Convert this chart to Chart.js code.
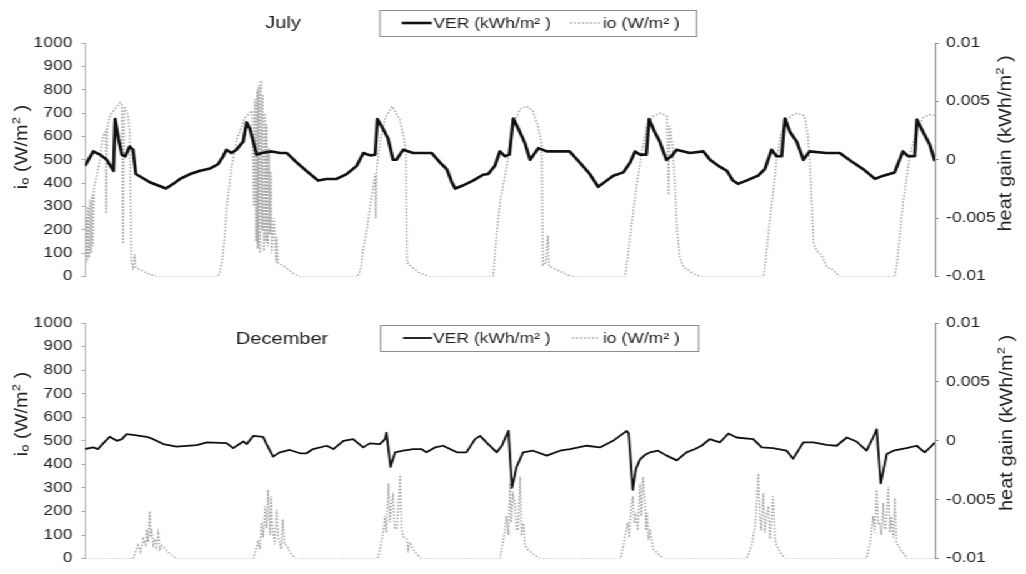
<!DOCTYPE html>
<html>
<head>
<meta charset="utf-8">
<title>VER and io - July / December</title>
<script src="https://cdn.jsdelivr.net/npm/chart.js@4.4.1/dist/chart.umd.min.js"></script>
<style>
  html, body { margin: 0; padding: 0; background: #fff; overflow: hidden; }
  /* plot is laid out narrow and widened, like the exported figure */
  #fig { width: 821px; height: 574px; transform: scaleX(1.2497); transform-origin: 0 0; }
  canvas { display: block; }
</style>
</head>
<body>
<div id="fig">
  <canvas id="july" width="821" height="292"></canvas>
  <canvas id="december" width="821" height="282"></canvas>
</div>
<script>
// [hour, heat gain kWh/m2]
const julyVer = [
  [0, -0.00052], [1.5, 0.00072], [2.7, 0.00044], [3.9, 0], [5.1, -0.00094], [5.4, 0.00348], [6.0, 0.00182],
  [6.6, 0.00044], [7.2, 0.0003], [8.0, 0.00114], [8.6, 0.00086], [9.1, -0.00122], [10.1, -0.0015],
  [11.6, -0.00192], [13.1, -0.0022], [14.5, -0.00246], [15.8, -0.00206], [17.0, -0.00164], [18.8, -0.00122],
  [20.6, -0.00094], [22.4, -0.00074], [23.8, -0.00038], [24.7, 0.0003], [25.3, 0.00086], [26.2, 0.00058],
  [27.1, 0.00086], [28.3, 0.00156], [28.9, 0.00322], [29.5, 0.00266], [30.1, 0.00156], [30.7, 0.00044],
  [31.6, 0.00058], [33.4, 0.00072], [34.9, 0.00058], [36.1, 0.00058], [37.9, -0.00024], [39.6, -0.00094],
  [41.7, -0.00178], [43.2, -0.00164], [45.0, -0.00164], [46.8, -0.00122], [48.6, -0.00052], [49.8, 0.00058],
  [51.0, 0.00038], [51.9, 0.00044], [52.3, 0.00348], [53.3, 0.00266], [54.2, 0.00182], [55.1, 0],
  [55.7, 0], [56.9, 0.00086], [58.7, 0.00058], [62.0, 0.00058], [63.5, -0.00024], [64.7, -0.0008],
  [65.6, -0.00192], [66.2, -0.00246], [67.6, -0.0022], [69.4, -0.00178], [71.2, -0.00128], [72.1, -0.00122],
  [73.3, -0.00052], [74.2, 0.00072], [75.1, 0.0003], [75.9, 0.00044], [76.6, 0.00354], [77.5, 0.00266],
  [78.7, 0.00142], [79.6, 0], [81.1, 0.001], [82.6, 0.00072], [86.7, 0.00072], [88.5, -0.00024],
  [90.3, -0.00122], [91.8, -0.00232], [93.3, -0.00178], [94.5, -0.00136], [96.3, -0.00108], [97.5, -0.00024],
  [98.4, 0.00072], [99.3, 0.00044], [100.4, 0.00044], [100.9, 0.00348], [101.9, 0.00238], [102.8, 0.00156],
  [104.0, 0], [104.9, 0.0003], [105.8, 0.00086], [108.2, 0.00058], [110.6, 0.00072], [111.8, 0],
  [113.3, -0.00052], [114.8, -0.00094], [115.9, -0.00178], [116.8, -0.00206], [118.3, -0.00178],
  [120.4, -0.00136], [121.6, -0.0008], [122.8, 0.00086], [123.7, 0.0003], [124.6, 0.0003], [125.2, 0.00354],
  [126.1, 0.00238], [127.3, 0.00156], [128.5, 0], [129.6, 0.00072], [132.6, 0.00058], [135.0, 0.00058],
  [137.4, -0.00024], [139.2, -0.0008], [141.3, -0.00164], [142.8, -0.00136], [144.8, -0.00108],
  [146.3, 0.00072], [147.2, 0.0003], [148.4, 0.0003], [148.8, 0.00344], [149.9, 0.00238], [151.1, 0.00128],
  [152.0, -0.00012]
];

// [hour, io W/m2]
const julyIo = [
  [0.0, 80], [0.2, 250], [0.4, 60], [0.5, 300], [0.7, 80], [0.9, 330], [1.1, 100], [1.3, 350], [1.4, 130],
  [1.6, 380], [2.0, 420], [2.7, 500], [3.2, 600], [3.7, 620], [3.8, 270], [4.0, 640], [4.5, 690], [5.4, 720],
  [6.3, 745], [6.6, 740], [6.8, 140], [7.0, 730], [7.7, 690], [8.0, 620], [8.3, 60], [8.6, 40], [8.9, 95],
  [9.1, 40], [9.8, 30], [11.6, 10], [12.9, 0],
  [23.8, 0], [24.1, 20], [24.5, 60], [24.9, 150], [25.4, 310], [26.3, 480], [27.2, 590], [28.6, 680],
  [29.9, 710], [30.2, 300], [30.4, 760], [30.6, 150], [30.8, 800], [30.9, 120], [31.1, 820], [31.3, 100],
  [31.5, 840], [31.7, 200], [31.8, 780], [32.0, 110], [32.2, 700], [32.4, 150], [32.5, 650], [32.7, 130],
  [32.9, 550], [33.1, 180], [33.3, 450], [33.4, 100], [33.8, 250], [34.2, 60], [34.3, 170], [34.5, 60],
  [35.8, 40], [37.2, 15], [38.4, 0],
  [48.8, 0], [49.4, 40], [49.7, 110], [50.4, 200], [51.0, 300], [51.9, 440], [52.0, 250], [52.2, 470],
  [52.8, 577], [53.6, 673], [54.9, 729], [56.3, 673], [57.0, 600], [57.4, 530], [57.6, 60], [58.5, 40],
  [59.9, 15], [61.7, 0],
  [73.0, 0], [73.3, 90], [73.7, 200], [74.2, 314], [75.5, 480], [76.5, 647], [77.8, 716], [79.0, 730],
  [80.1, 709], [81.0, 647], [81.7, 564], [81.9, 50], [82.4, 60], [82.8, 176], [83.0, 44], [84.9, 24],
  [86.7, 3], [87.6, 0],
  [96.6, 0], [97.1, 91], [97.8, 229], [98.7, 395], [99.6, 534], [100.5, 645], [101.6, 686], [103.0, 700],
  [104.1, 686], [104.4, 350], [104.6, 645], [105.1, 560], [105.5, 400], [105.9, 200], [106.4, 80],
  [107.1, 40], [109.1, 10], [110.0, 0],
  [121.4, 0], [122.0, 131], [122.8, 312], [123.2, 384], [123.7, 505], [124.3, 591], [124.6, 617],
  [125.5, 673], [126.6, 693], [127.3, 699], [128.7, 688], [129.3, 600], [129.6, 505], [130.0, 312],
  [130.3, 145], [130.9, 110], [131.8, 90], [132.7, 40], [133.6, 32], [135.0, 0],
  [144.8, 0], [145.2, 51], [145.5, 120], [146.3, 314], [147.5, 515], [148.8, 630], [149.9, 680],
  [151.1, 694], [152.0, 690]
];

const decVer = [
  [0, -0.0007], [1.6, -0.00056], [2.6, -0.0007], [3.6, -0.00022], [4.9, 0.00034], [6.3, 0], [7.3, 0.00014],
  [8.2, 0.00056], [9.5, 0.0005], [12.2, 0.00034], [13.5, 0.00014], [15.5, -0.00028], [18.1, -0.0005],
  [22.1, -0.00036], [24.1, -0.00014], [28.0, -0.0002], [29.3, -0.00062], [31.3, -0.00006], [32.0, -0.00028],
  [33.3, 0.00042], [35.2, 0.00034], [35.9, -0.00028], [37.2, -0.00134], [38.5, -0.00098], [40.5, -0.00078],
  [42.5, -0.00106], [43.8, -0.00106], [45.1, -0.0007], [47.8, -0.00042], [49.1, -0.0007], [51.1, 0],
  [53.0, 0.00014], [55.0, -0.00056], [56.3, -0.00022], [58.3, -0.00028], [59.3, 0.00014], [59.6, 0.0007],
  [60.4, -0.00222], [61.3, -0.00098], [62.9, -0.00084], [64.9, -0.0007], [66.5, -0.0007], [67.5, -0.00098],
  [69.2, -0.00056], [70.8, -0.00042], [73.5, -0.00098], [75.4, -0.00098], [77.1, 0.00014], [78.1, 0.00042],
  [79.7, -0.00028], [81.4, -0.00098], [82.4, -0.00042], [83.7, 0.00084], [84.4, -0.004], [85.3, -0.00222],
  [86.6, -0.00098], [88.6, -0.00084], [91.3, -0.00126], [93.9, -0.00084], [95.9, -0.0007], [99.2, -0.00042],
  [101.8, -0.00056], [104.4, 0], [107.1, 0.00084], [107.5, 0.0006], [108.3, -0.00416], [108.9, -0.0024],
  [109.7, -0.0016], [110.7, -0.0012], [111.7, -0.00098], [113.3, -0.00084], [115.0, -0.00126],
  [117.0, -0.00166], [118.9, -0.00098], [120.6, -0.0007], [121.9, -0.00042], [123.5, 0.00014],
  [125.5, -0.00014], [127.2, 0.00062], [128.8, 0.00028], [132.1, 0.00014], [133.8, -0.00056],
  [136.0, -0.00062], [138.7, -0.00084], [140.0, -0.00152], [142.0, -0.00014], [144.0, -0.00014],
  [146.6, -0.00034], [148.6, -0.00042], [150.6, 0.00028], [152.5, -0.00006], [154.5, -0.00084],
  [155.8, 0.00028], [156.5, 0.00098], [157.3, -0.00362], [158.5, -0.00112], [159.8, -0.00084],
  [162.4, -0.00062], [164.4, -0.00042], [166.0, -0.00098], [167.4, -0.00042], [168.0, -0.00014]
];

const decIo = [
  [0, 0], [9.5, 0], [10.5, 56], [11.0, 30], [11.5, 83], [12.0, 60], [12.2, 125], [12.5, 70], [12.8, 201],
  [13.0, 90], [13.2, 111], [13.5, 60], [13.8, 83], [14.1, 50], [14.5, 104], [14.8, 40], [15.2, 56],
  [15.8, 42], [16.8, 21], [18.1, 0],
  [33.3, 0], [34.2, 69], [34.6, 40], [34.9, 153], [35.2, 90], [35.6, 222], [35.9, 130], [36.2, 292],
  [36.4, 181], [36.6, 100], [36.8, 264], [37.0, 150], [37.2, 111], [37.5, 60], [37.9, 208], [38.2, 90],
  [38.5, 69], [38.8, 40], [39.1, 167], [39.4, 60], [39.9, 56], [40.5, 28], [41.5, 0],
  [57.9, 0], [58.6, 69], [59.0, 120], [59.3, 181], [59.6, 110], [60.0, 319], [60.3, 153], [60.6, 240],
  [60.9, 264], [61.2, 130], [61.6, 125], [61.9, 200], [62.3, 354], [62.6, 125], [63.0, 90], [63.6, 83],
  [63.9, 40], [64.2, 69], [64.8, 42], [65.8, 14], [66.5, 0],
  [82.0, 0], [82.6, 69], [83.0, 120], [83.3, 181], [83.7, 100], [84.0, 319], [84.3, 153], [84.6, 270],
  [85.0, 236], [85.3, 120], [85.6, 125], [86.0, 347], [86.3, 97], [86.7, 150], [87.0, 60], [87.3, 42],
  [88.5, 21], [89.9, 0],
  [105.9, 0], [106.3, 42], [106.8, 100], [107.3, 153], [107.6, 90], [108.0, 220], [108.3, 264],
  [108.6, 150], [108.9, 181], [109.3, 120], [109.7, 319], [110.0, 180], [110.3, 347], [110.7, 236],
  [110.9, 120], [111.1, 194], [111.4, 80], [111.7, 125], [112.3, 42], [113.6, 14], [114.4, 0],
  [130.8, 0], [131.8, 56], [132.1, 100], [132.4, 125], [132.7, 200], [133.1, 361], [133.4, 181],
  [133.7, 120], [134.1, 278], [134.4, 111], [134.7, 180], [135.1, 222], [135.4, 83], [135.7, 150],
  [136.0, 264], [136.4, 90], [136.7, 56], [137.4, 28], [138.4, 0],
  [154.5, 0], [155.2, 69], [155.5, 120], [155.8, 181], [156.1, 110], [156.5, 292], [156.8, 150],
  [157.1, 153], [157.4, 100], [157.8, 236], [158.0, 130], [158.3, 125], [158.8, 306], [159.1, 111],
  [159.4, 180], [159.8, 90], [160.1, 257], [160.4, 69], [161.1, 42], [162.1, 14], [162.5, 0], [168.0, 0]
];

const ioAxis = { min: 0, max: 1000, step: 100 };
const verAxis = { min: -0.01, max: 0.01, step: 0.005 };
const seriesLabels = ['VER (kWh/m² )', 'io (W/m² )'];

const FONT = '"Liberation Sans", Arial, sans-serif';

// rotated axis title made of runs, so sub/superscripts can be sized
function drawRotated(ctx, runs, x, y) {
  const size = 20;
  ctx.save();
  ctx.translate(x, y);
  ctx.rotate(-Math.PI / 2);
  ctx.scale(1, 0.75);
  ctx.textAlign = 'left';
  ctx.textBaseline = 'middle';
  ctx.fillStyle = '#222';
  const fontOf = r => `${Math.round(size * (r.s || 1))}px ${FONT}`;
  let w = 0;
  runs.forEach(r => { ctx.font = fontOf(r); w += ctx.measureText(r.t).width; });
  let cx = -w / 2;
  runs.forEach(r => {
    ctx.font = fontOf(r);
    ctx.fillText(r.t, cx, (r.dy || 0) * size);
    cx += ctx.measureText(r.t).width;
  });
  ctx.restore();
}

const ioTitle = [{ t: 'i' }, { t: 'o', s: 0.65, dy: 0.22 }, { t: ' (W/m' }, { t: '2', s: 0.65, dy: -0.3 }, { t: ' )' }];
const verTitle = [{ t: 'heat gain (kWh/m' }, { t: '2', s: 0.65, dy: -0.3 }, { t: ' )' }];

// panel name, framed legend and axis titles
const decor = {
  id: 'decor',
  afterDraw(chart, args, o) {
    const ctx = chart.ctx;
    ctx.save();
    ctx.fillStyle = '#222';
    ctx.textBaseline = 'middle';

    ctx.font = `16px ${FONT}`;
    ctx.textAlign = 'center';
    ctx.fillText(o.title, o.titleAt[0], o.titleAt[1]);

    const [bx, by, bw, bh] = o.legendBox;
    ctx.strokeStyle = '#8c8c8c';
    ctx.lineWidth = 1;
    ctx.strokeRect(bx + 0.5, by + 0.5, bw, bh);

    ctx.font = `14px ${FONT}`;
    ctx.textAlign = 'left';
    const ly = by + bh / 2;
    chart.data.datasets.forEach((ds, i) => {
      const [x0, x1, tx] = o.legendItems[i];
      ctx.save();
      ctx.strokeStyle = ds.borderColor;
      ctx.lineWidth = ds.borderWidth;
      ctx.setLineDash(ds.borderDash || []);
      ctx.beginPath();
      ctx.moveTo(x0, ly);
      ctx.lineTo(x1, ly);
      ctx.stroke();
      ctx.restore();
      ctx.fillText(ds.label, tx, ly + 1);
    });

    drawRotated(ctx, ioTitle, o.leftTitle[0], o.leftTitle[1]);
    drawRotated(ctx, verTitle, o.rightTitle[0], o.rightTitle[1]);
    ctx.restore();
  }
};

function panel(id, ver, io, hours, verWidth, pad, deco) {
  const pts = arr => arr.map(([x, y]) => ({ x, y }));
  return new Chart(document.getElementById(id), {
    type: 'line',
    data: {
      datasets: [
        {
          label: seriesLabels[0], data: pts(ver), yAxisID: 'y1',
          borderColor: '#111', borderWidth: verWidth, borderJoinStyle: 'round',
          pointRadius: 0, tension: 0
        },
        {
          label: seriesLabels[1], data: pts(io), yAxisID: 'y',
          borderColor: '#a6a6a6', borderWidth: 1.4, borderDash: [1.6, 1.6],
          pointRadius: 0, tension: 0
        }
      ]
    },
    options: {
      responsive: false,
      animation: false,
      devicePixelRatio: 1,
      layout: { padding: pad },
      plugins: { legend: { display: false }, tooltip: { enabled: false }, decor: deco },
      scales: {
        x: { type: 'linear', min: 0, max: hours, display: false },
        y: {
          position: 'left', min: ioAxis.min, max: ioAxis.max,
          ticks: {
            stepSize: ioAxis.step, padding: 7, color: '#222',
            font: { family: FONT, size: 14 }, callback: v => String(v)
          },
          grid: { drawOnChartArea: false, tickLength: 3, color: '#b0b0b0' },
          border: { color: '#b0b0b0' },
          afterFit: s => { s.width = 68; }
        },
        y1: {
          position: 'right', min: verAxis.min, max: verAxis.max,
          ticks: {
            stepSize: verAxis.step, padding: 6, color: '#222',
            font: { family: FONT, size: 14 }, callback: v => String(+Number(v).toFixed(3))
          },
          grid: { drawOnChartArea: false, tickLength: 3, color: '#888' },
          border: { color: '#888' },
          afterFit: s => { s.width = 73; }
        }
      }
    },
    plugins: [decor]
  });
}

panel('july', julyVer, julyIo, 152, 2.6, { top: 43, bottom: 10, left: 0, right: 0 }, {
  title: 'July', titleAt: [226.5, 24],
  legendBox: [303.5, 10, 253.4, 26],
  legendItems: [[321.4, 345.4, 346.7], [456.1, 480.1, 482.5]],
  leftTitle: [17.4, 147], rightTitle: [804.8, 143.5]
});

panel('december', decVer, decIo, 168, 1.8, { top: 31, bottom: 11, left: 0, right: 0 }, {
  title: 'December', titleAt: [225.7, 47.5],
  legendBox: [304.1, 33, 254.4, 26],
  legendItems: [[322.5, 345.7, 346.5], [457.7, 480.1, 482.5]],
  leftTitle: [17.4, 122], rightTitle: [806.2, 131]
});
</script>
</body>
</html>
